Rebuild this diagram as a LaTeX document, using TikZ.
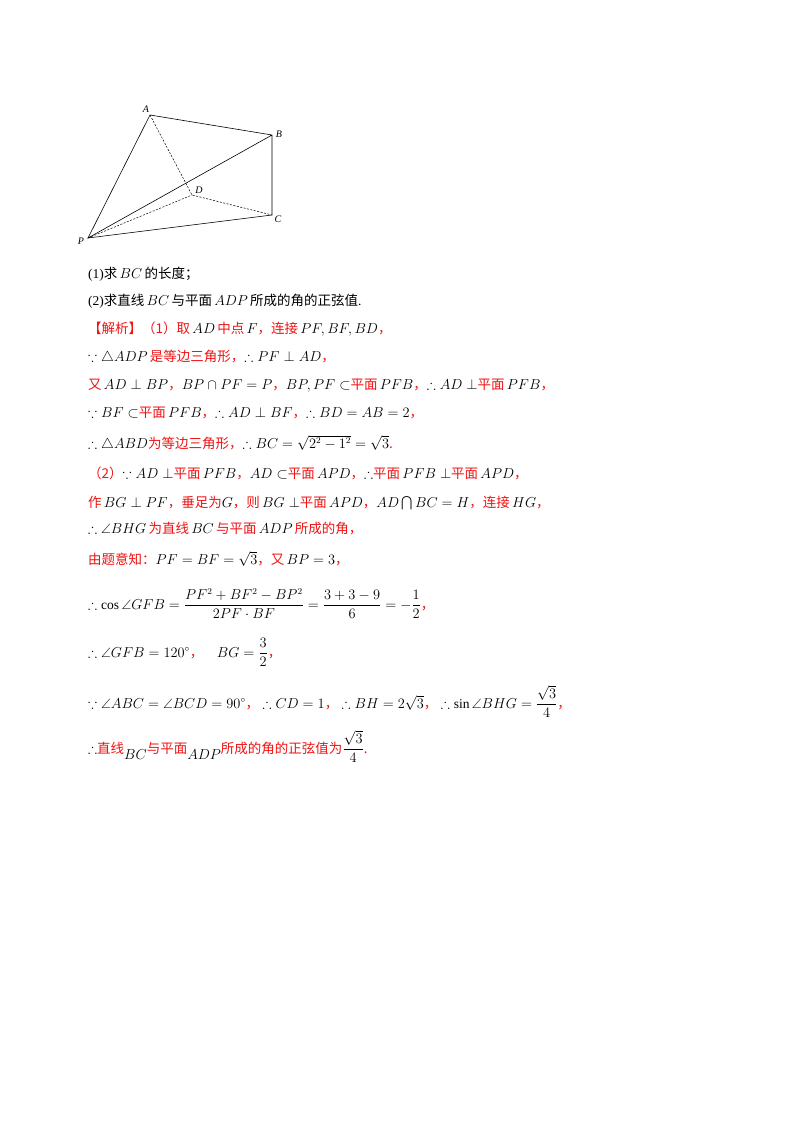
\documentclass[tikz,border=0pt]{standalone}
\usepackage{amsmath,amssymb}
\usepackage{fontspec}
\setmainfont{Liberation Serif}
\newfontfamily\cjk{Noto Sans CJK SC}
\definecolor{rd}{RGB}{240,20,20}
\newcommand{\zh}[1]{{\cjk #1}}
\newcommand{\rz}[1]{{\color{rd}\cjk #1}}
\tikzset{ln/.style={anchor=base west,inner sep=0pt,font=\fontsize{13.5}{16}\selectfont},
solid line/.style={line width=0.6pt},dash line/.style={line width=0.5pt,dashed,dash pattern=on 2pt off 1.5pt},
lab/.style={inner sep=0pt,font=\fontsize{10}{12}\selectfont\itshape}}
\begin{document}
\begin{tikzpicture}[x=1pt,y=-1pt]
\useasboundingbox[fill=white] (0,0) rectangle (800,1132);
\coordinate (A) at (150,115);
\coordinate (B) at (272,135);
\coordinate (C) at (272,215);
\coordinate (D) at (192,195);
\coordinate (P) at (88,238);
\draw[solid line] (P)--(A)--(B)--(C)--(P)--(B);
\draw[dash line] (A)--(D)--(C) (P)--(D);
\node[lab] (lA) at (146,109) {A};
\node[lab] (lB) at (279,134) {B};
\node[lab] (lC) at (278,219) {C};
\node[lab] (lD) at (199,190) {D};
\node[lab] (lP) at (81,241) {P};
\node[ln] (l1) at (88,278) {(1)\zh{求}\,$BC$\,\zh{的长度；}};
\node[ln] (l2) at (88,305) {(2)\zh{求直线}\,$BC$\,\zh{与平面}\,$ADP$\,\zh{所成的角的正弦值}.};
\node[ln] (l3) at (88,333) {\rz{【解析】（1）取}\,$AD$\,\rz{中点}\,$F$\rz{，连接}\,$PF,BF,BD$\rz{，}};
\node[ln] (l4) at (88,361) {$\because\triangle ADP$\,\rz{是等边三角形，}$\therefore PF\perp AD$\rz{，}};
\node[ln] (l5) at (88,389) {\rz{又}\,$AD\perp BP$\rz{，}$BP\cap PF=P$\rz{，}$BP,PF\subset$\rz{平面}\,$PFB$\rz{，}$\therefore AD\perp$\rz{平面}\,$PFB$\rz{，}};
\node[ln] (l6) at (88,417) {$\because BF\subset$\rz{平面}\,$PFB$\rz{，}$\therefore AD\perp BF$\rz{，}$\therefore BD=AB=2$\rz{，}};
\node[ln] (l7) at (88,448) {$\therefore\triangle ABD$\rz{为等边三角形，}$\therefore BC=\sqrt{2^2-1^2}=\sqrt3$\rz{.}};
\node[ln] (l8) at (88,478) {\rz{（2）}$\because AD\perp$\rz{平面}\,$PFB$\rz{，}$AD\subset$\rz{平面}\,$APD$\rz{，}$\therefore$\rz{平面}\,$PFB\perp$\rz{平面}\,$APD$\rz{，}};
\node[ln] (l9) at (88,507) {\rz{作}\,$BG\perp PF$\rz{，垂足为}$G$\rz{，则}\,$BG\perp$\rz{平面}\,$APD$\rz{，}$AD\bigcap BC=H$\rz{，连接}\,$HG$\rz{，}};
\node[ln] (l10) at (88,533) {$\therefore\angle BHG$\,\rz{为直线}\,$BC$\,\rz{与平面}\,$ADP$\,\rz{所成的角，}};
\node[ln] (l11) at (88,564) {\rz{由题意知：}$PF=BF=\sqrt3$\rz{，又}\,$BP=3$\rz{，}};
\node[ln] (l12) at (88,609) {$\therefore\cos\angle GFB=\dfrac{PF^2+BF^2-BP^2}{2PF\cdot BF}=\dfrac{3+3-9}{6}=-\dfrac12$\rz{，}};
\node[ln] (l13) at (88,657) {$\therefore\angle GFB=120^\circ$\rz{，}\quad$BG=\dfrac32$\rz{，}};
\node[ln] (l14) at (88,708) {$\because\angle ABC=\angle BCD=90^\circ$\rz{，}\ $\therefore CD=1$\rz{，}\ $\therefore BH=2\sqrt3$\rz{，}\ $\therefore\sin\angle BHG=\dfrac{\sqrt3}{4}$\rz{，}};
\node[ln] (l15) at (88,753) {$\therefore$\rz{直线}\raisebox{-6pt}{$BC$}\rz{与平面}\raisebox{-6pt}{$ADP$}\rz{所成的角的正弦值为}$\dfrac{\sqrt3}{4}$\rz{.}};
\end{tikzpicture}
\end{document}
